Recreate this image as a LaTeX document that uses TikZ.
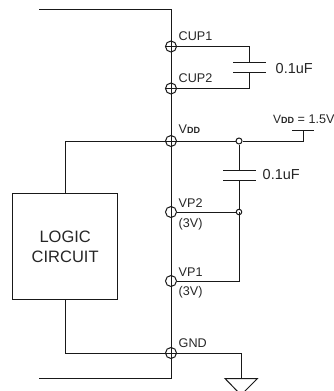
\documentclass[tikz,border=0pt]{standalone}
\usepackage{fontspec}
\setmainfont{Liberation Sans}
\newcommand{\lbl}[1]{\fontsize{#1}{#1}\selectfont}
\newcommand{\vdd}[2]{{\lbl{#1}V\lbl{#2}\textbf{DD}}}
\begin{document}
\begin{tikzpicture}[x=1pt,y=-1pt,line cap=butt,
  wire/.style={draw=black!90,line width=1pt},
  pin/.style={circle,draw=black!90,line width=1pt,minimum size=11pt,inner sep=0pt},
  dotpin/.style={circle,draw=black!90,line width=1pt,minimum size=6pt,inner sep=0pt},
  pinlabel/.style={anchor=base west,inner sep=0pt,text=black!85,font=\lbl{12.6}},
  vallabel/.style={anchor=base west,inner sep=0pt,text=black!85,font=\lbl{14.5}}]
\useasboundingbox (0,0) rectangle (333,391);
\clip (0,0) rectangle (333,391);
% rail
\coordinate (railTL) at (39,9.5);
\coordinate (railT) at (171,9.5);
\coordinate (railB) at (171,378.5);
\coordinate (railBL) at (39,378.5);
\draw[wire] (railTL) -- (railT) -- (railB) -- (railBL);
% pins
\node[pin] (cup1) at (171,46.5) {};
\node[pin] (cup2) at (171,88.5) {};
\node[pin] (vdd) at (171,141) {};
\node[pin] (vp2) at (171,212) {};
\node[pin] (vp1) at (171,281) {};
\node[pin] (gnd) at (171,353) {};
% crosses
\draw[wire] (cup1.west) -- (cup1.east);
\draw[wire] (cup2.west) -- (cup2.east);
\draw[wire] (vdd.west) -- (vdd.east);
\draw[wire] (gnd.west) -- (gnd.east);
% logic box
\node[draw=black!90,line width=1pt,minimum width=105.5pt,minimum height=105.5pt,inner sep=0pt,align=center,font=\lbl{16.5},text=black!85] (logic) at (65.2,246.7) {LOGIC\\[3.5pt]CIRCUIT};
\coordinate (vddL) at (logic.north |- vdd);
\coordinate (gndL) at (logic.south |- gnd);
\draw[wire] (logic.north) -- (vddL) -- (vdd.west);
\draw[wire] (logic.south) -- (gndL) -- (gnd.west);
% CUP capacitor
\coordinate (capAt) at (249.5,62);
\coordinate (capAb) at (249.5,72);
\coordinate (capAtl) at (233,62);
\coordinate (capAtr) at (266,62);
\coordinate (capAbl) at (233,72);
\coordinate (capAbr) at (266,72);
\draw[wire] (cup1.east) -- (cup1.east -| capAt) -- (capAt);
\draw[wire] (cup2.east) -- (cup2.east -| capAb) -- (capAb);
\draw[wire] (capAtl) -- (capAtr);
\draw[wire] (capAbl) -- (capAbr);
% VDD line
\node[dotpin] (dvdd) at (239,141) {};
\coordinate (vddEnd) at (303,141);
\coordinate (vddTop) at (303,130.5);
\coordinate (barL) at (292,130.5);
\coordinate (barR) at (313.5,130.5);
\draw[wire] (vdd.east) -- (dvdd.west);
\draw[wire] (dvdd.east) -- (vddEnd) -- (vddTop);
\draw[wire] (barL) -- (barR);
% decoupling capacitor
\coordinate (capBt) at (239,170);
\coordinate (capBb) at (239,180.5);
\coordinate (capBtl) at (223,170);
\coordinate (capBtr) at (255.5,170);
\coordinate (capBbl) at (223,180.5);
\coordinate (capBbr) at (255.5,180.5);
\node[dotpin,minimum size=5.5pt] (dvp2) at (239,212) {};
\coordinate (vp1R) at (239,281);
\draw[wire] (dvdd.south) -- (capBt);
\draw[wire] (capBtl) -- (capBtr);
\draw[wire] (capBbl) -- (capBbr);
\draw[wire] (capBb) -- (dvp2.north);
\draw[wire] (vp2.east) -- (dvp2.west);
\draw[wire] (dvp2.center) -- (vp1R) -- (vp1.east);
% ground
\coordinate (gndR) at (241,353);
\coordinate (gndT) at (241,378.5);
\coordinate (triL) at (225,378.5);
\coordinate (triR) at (257.5,378.5);
\coordinate (triB) at (241,395);
\draw[wire] (gnd.east) -- (gndR) -- (gndT);
\draw[wire] (triL) -- (triR) -- (triB) -- cycle;
% labels
\node[pinlabel] (tcup1) at (178.5,40.5) {CUP1};
\node[pinlabel] (tcup2) at (178.5,82) {CUP2};
\node[vallabel] (tc1) at (275.5,73) {0.1uF};
\node[pinlabel] (tvdd) at (178.5,133) {\vdd{12.6}{9}};
\node[vallabel] (tc2) at (262.5,179.5) {0.1uF};
\node[pinlabel] (tvddv) at (273,123.5) {\vdd{12}{9}\lbl{12.6} = 1.5V};
\node[pinlabel] (tvp2) at (178.5,207) {VP2};
\node[pinlabel] (t3a) at (178.5,227.5) {(3V)};
\node[pinlabel] (tvp1) at (178.5,276.7) {VP1};
\node[pinlabel] (t3b) at (178.5,295.7) {(3V)};
\node[pinlabel] (tgnd) at (178.5,347.7) {GND};
\end{tikzpicture}
\end{document}
